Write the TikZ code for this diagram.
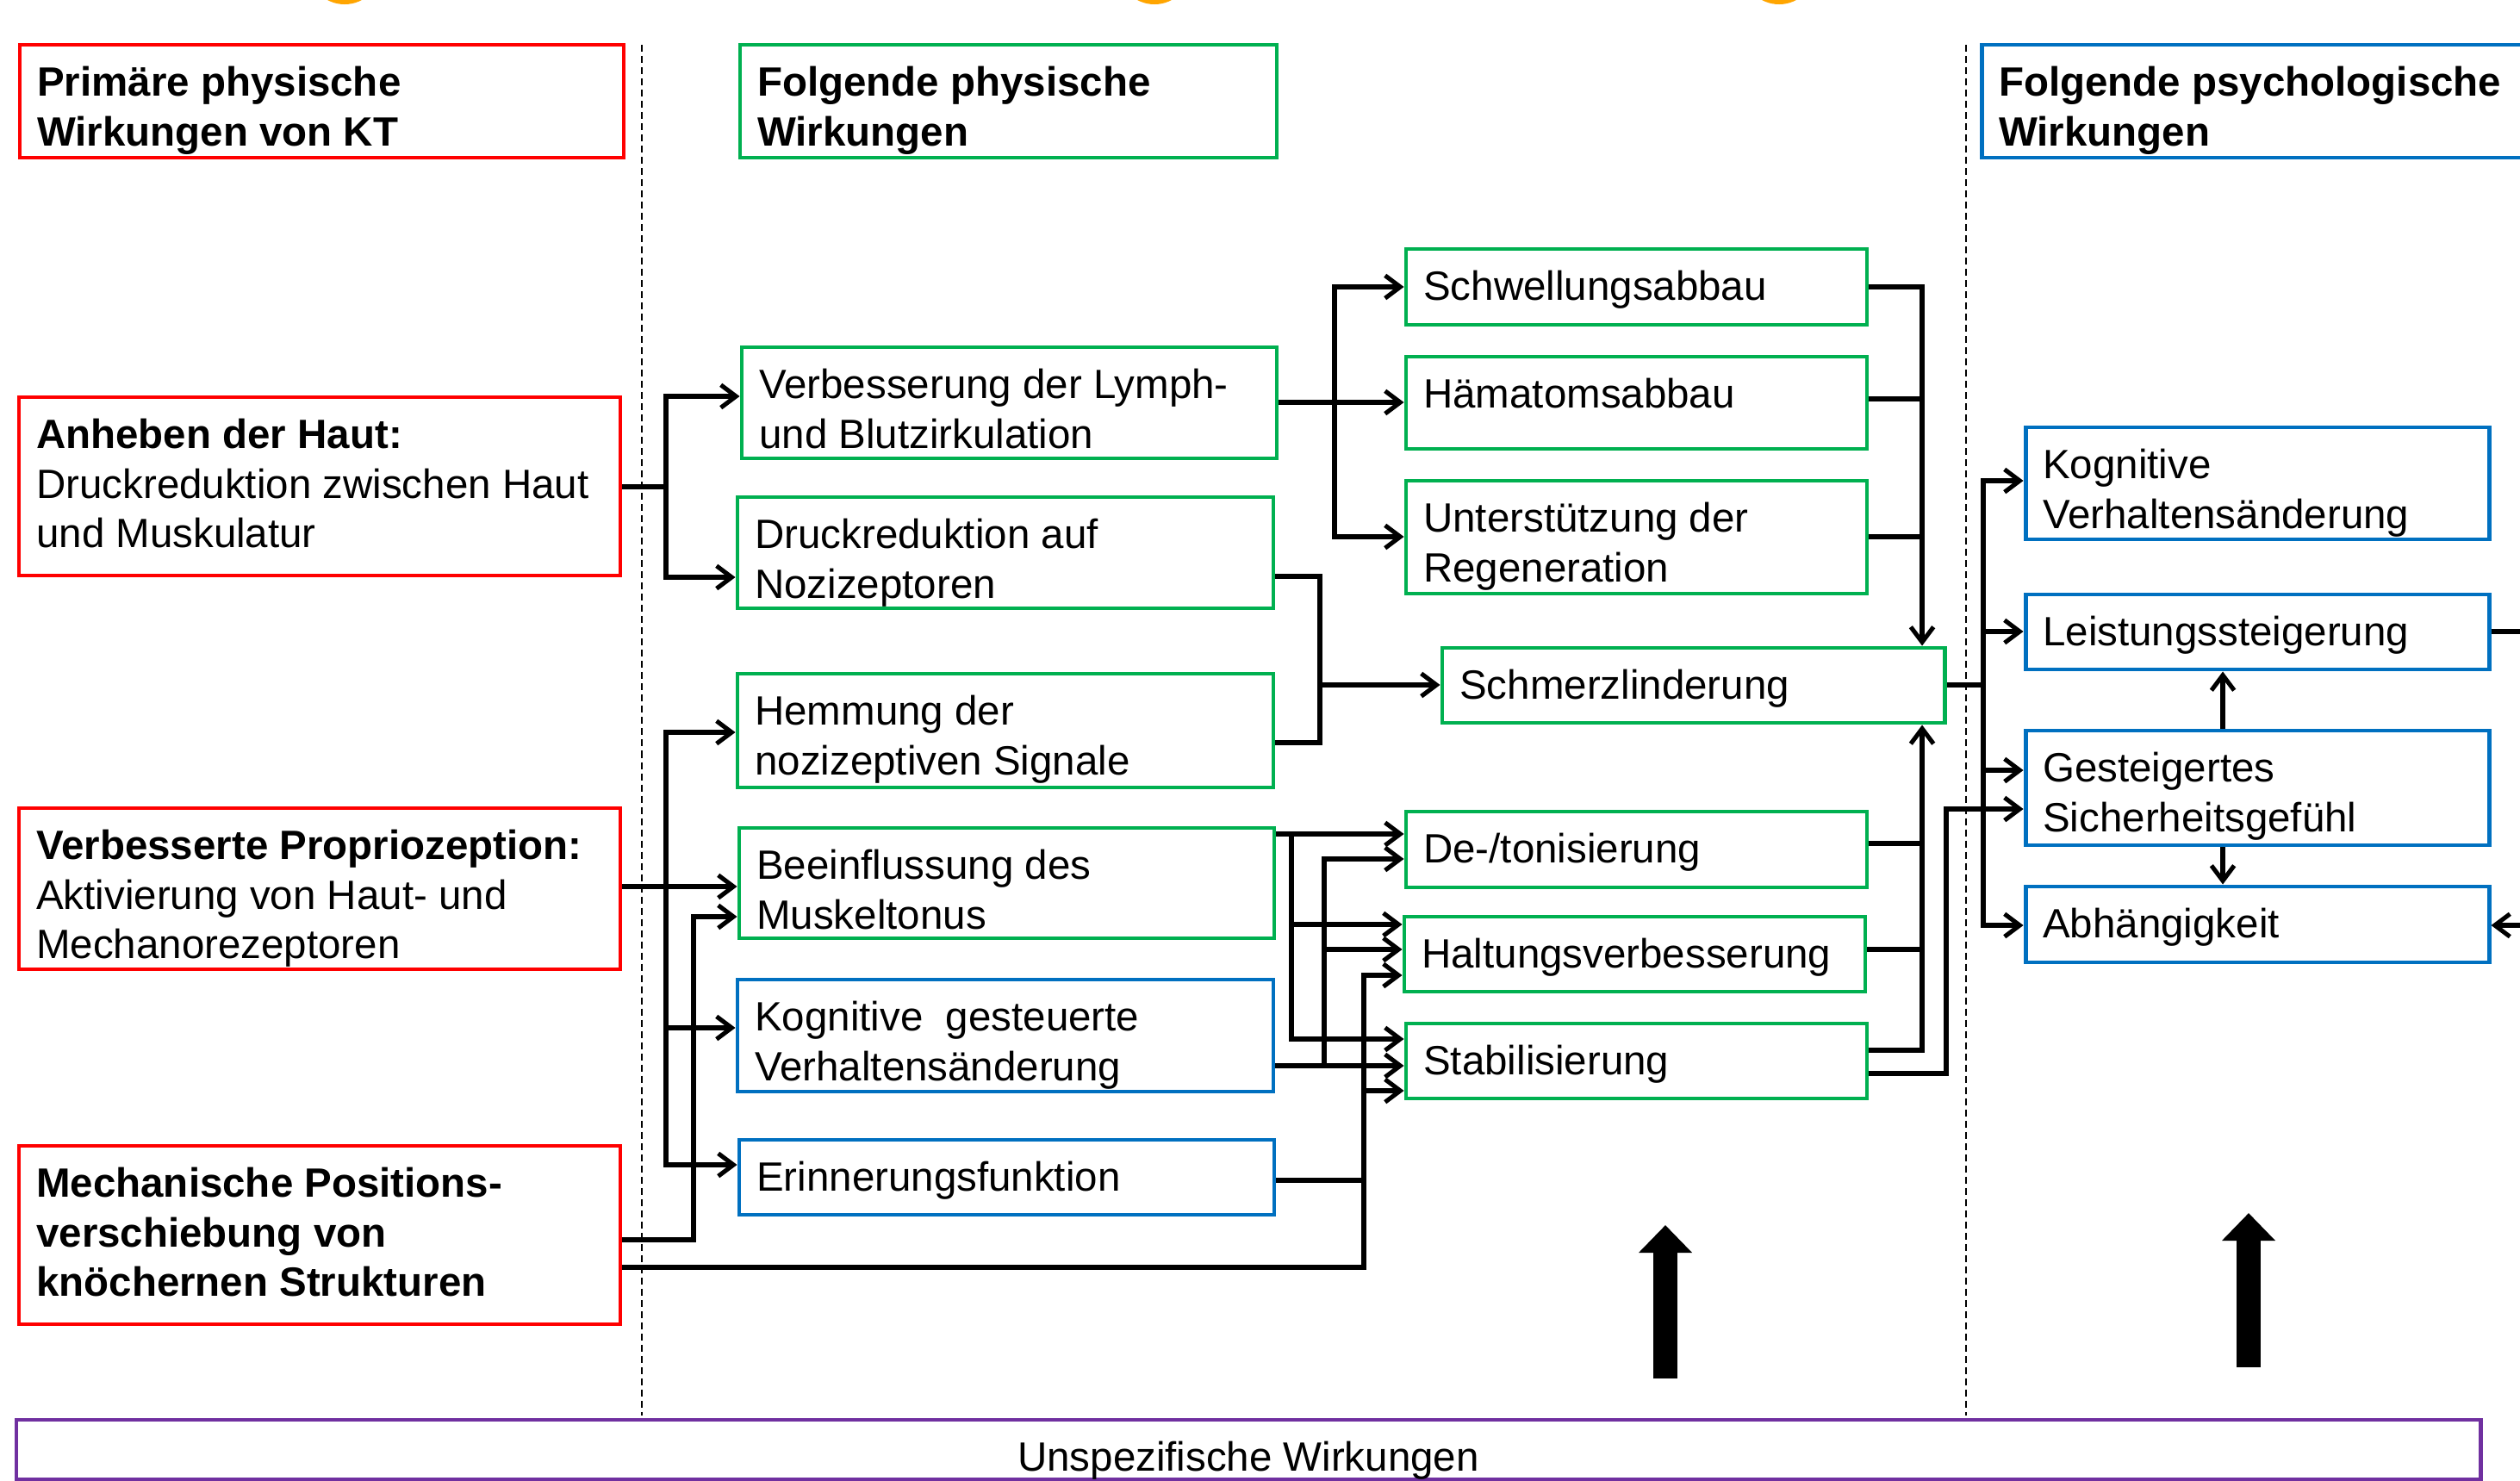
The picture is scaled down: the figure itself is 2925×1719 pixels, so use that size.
\documentclass[tikz,border=0pt]{standalone}
\usepackage{fontspec}
\setmainfont{Liberation Sans}
\usetikzlibrary{arrows.meta,fit,calc}
\definecolor{cred}{RGB}{255,0,0}
\definecolor{cgreen}{RGB}{0,176,80}
\definecolor{cblue}{RGB}{0,112,192}
\definecolor{cpurple}{RGB}{112,48,160}
\definecolor{corange}{RGB}{255,165,0}
\newcommand\mybox[7]{%
  \node[box=#6, fit={(#2,#3) (#4,#5)}] (#1) {};
  \node[txt] at ([xshift=0.22cm,yshift=-0.21cm]#1.north west) {\strut #7};}
\begin{document}
\begin{tikzpicture}[x=0.01cm,y=-0.01cm,
  box/.style={draw=#1, line width=1.4pt, inner sep=0pt, rectangle},
  txt/.style={anchor=north west, align=left, inner sep=0pt, font=\fontsize{13.5}{16.4}\selectfont},
  ln/.style={line width=1.45pt, line join=miter},
  ar/.style={ln, -{Straight Barb[length=5pt,width=7.5pt]}},
  bigar/.style={line width=0.28cm, -{Triangle[length=0.32cm,width=0.6cm]}},
  sep/.style={line width=0.5pt, dash pattern=on 0.08cm off 0.05cm}
]
\useasboundingbox (0,0) rectangle (2925,1719);
\clip (0,0) rectangle (2925,1719);
\fill[white] (0,0) rectangle (2925,1719);

% orange bits at the top edge
\fill[corange] (400,-37) circle (0.42cm);
\fill[corange] (1340,-37) circle (0.42cm);
\fill[corange] (2065,-37) circle (0.42cm);

% separators
\draw[sep] (745,52) -- (745,1643);
\draw[sep] (2282,52) -- (2282,1643);

% headers
\mybox{H1}{23}{52}{724}{183}{cred}{\textbf{Primäre physische}\\\textbf{Wirkungen von KT}}
\mybox{H2}{859}{52}{1482}{183}{cgreen}{\textbf{Folgende physische}\\\textbf{Wirkungen}}
\mybox{H3}{2300}{52}{2990}{183}{cblue}{\textbf{Folgende psychologische}\\\textbf{Wirkungen}}

% left column
\mybox{A}{22}{461}{720}{668}{cred}{\textbf{Anheben der Haut:}\\Druckreduktion zwischen Haut\\und Muskulatur}
\mybox{P}{22}{938}{720}{1125}{cred}{\textbf{Verbesserte Propriozeption:}\\Aktivierung von Haut- und\\Mechanorezeptoren}
\mybox{M}{22}{1330}{720}{1537}{cred}{\textbf{Mechanische Positions-}\\\textbf{verschiebung von}\\\textbf{knöchernen Strukturen}}

% middle column
\mybox{V}{861}{403}{1482}{532}{cgreen}{Verbesserung der Lymph-\\und Blutzirkulation}
\mybox{D}{856}{577}{1478}{706}{cgreen}{Druckreduktion auf\\Nozizeptoren}
\mybox{Hm}{856}{782}{1478}{914}{cgreen}{Hemmung der\\nozizeptiven Signale}
\mybox{B}{858}{961}{1479}{1089}{cgreen}{Beeinflussung des\\Muskeltonus}
\mybox{KG}{856}{1137}{1478}{1267}{cblue}{Kognitive~ gesteuerte\\Verhaltensänderung}
\mybox{E}{858}{1323}{1479}{1410}{cblue}{Erinnerungsfunktion}

% third column
\mybox{S}{1632}{289}{2167}{377}{cgreen}{Schwellungsabbau}
\mybox{Ha}{1632}{414}{2167}{521}{cgreen}{Hämatomsabbau}
\mybox{U}{1632}{558}{2167}{689}{cgreen}{Unterstützung der\\Regeneration}
\mybox{Sch}{1674}{752}{2257}{839}{cgreen}{Schmerzlinderung}
\mybox{Dt}{1632}{942}{2167}{1030}{cgreen}{De-/tonisierung}
\mybox{Hv}{1630}{1064}{2165}{1151}{cgreen}{Haltungsverbesserung}
\mybox{St}{1632}{1188}{2167}{1275}{cgreen}{Stabilisierung}

% right column
\mybox{K}{2351}{496}{2889}{626}{cblue}{Kognitive\\Verhaltensänderung}
\mybox{L}{2351}{690}{2889}{777}{cblue}{Leistungssteigerung}
\mybox{G}{2351}{848}{2889}{981}{cblue}{Gesteigertes\\Sicherheitsgefühl}
\mybox{Ab}{2351}{1029}{2889}{1117}{cblue}{Abhängigkeit}

% bottom box
\node[box=cpurple, fit={(19,1648) (2879,1717)}] (Un) {};
\node[txt, anchor=north] at ([yshift=-0.21cm]Un.north) {\strut Unspezifische Wirkungen};

% big arrows
\coordinate (ba1) at (1933,1600); \coordinate (bt1) at (1933,1422);
\coordinate (ba2) at (2610,1587); \coordinate (bt2) at (2610,1408);
\draw[bigar] (ba1) -- (bt1);
\draw[bigar] (ba2) -- (bt2);

% --- connectors ---
% Anheben
\draw[ar] (A.east |- 0,565) -- (773,565) |- (V.west |- 0,460);
\draw[ar] (773,565) |- (D.west |- 0,670);
% Verbesserung
\draw[ar] (V.east |- 0,467) -- (Ha.west |- 0,467);
\draw[ar] (1549,467) |- (S.west |- 0,333);
\draw[ar] (1549,467) |- (U.west |- 0,623);
% into Schmerzlinderung from above
\draw[ar] (S.east |- 0,333) -| (Sch.north -| 2231,0);
\draw[ln] (Ha.east |- 0,463) -- (2231,463);
\draw[ln] (U.east |- 0,623) -- (2231,623);
% Druckreduktion / Hemmung
\draw[ln] (D.east |- 0,669) -| (1532,862) -- (Hm.east |- 0,862);
\draw[ar] (1532,795) -- (Sch.west |- 0,795);
% into Schmerzlinderung from below
\draw[ar] (St.east |- 0,1219) -| (Sch.south -| 2231,0);
\draw[ln] (Dt.east |- 0,979) -- (2231,979);
\draw[ln] (Hv.east |- 0,1102) -- (2231,1102);
% Stabilisierung -> Sicherheitsgefuehl
\draw[ar] (St.east |- 0,1246) -| (2259,939) -- (G.west |- 0,939);
% Schmerzlinderung -> right column
\draw[ln] (Sch.east |- 0,795) -- (2302,795);
\draw[ar] (2302,795) |- (K.west |- 0,558);
\draw[ar] (2302,795) |- (Ab.west |- 0,1074);
\draw[ar] (2302,733) -- (L.west |- 0,733);
\draw[ar] (2302,894) -- (G.west |- 0,894);
% Gesteigertes <-> others
\draw[ar] (G.north -| 2580,0) -- (L.south -| 2580,0);
\draw[ar] (G.south -| 2580,0) -- (Ab.north -| 2580,0);
% off-picture links
\coordinate (offL) at (2990,733);
\coordinate (offA) at (2990,1074);
\draw[ln] (L.east |- 0,733) -- (offL);
\draw[ar] (offA) -- (Ab.east |- 0,1074);
% Propriozeption
\draw[ar] (P.east |- 0,1029) -- (B.west |- 0,1029);
\draw[ar] (773,1029) |- (Hm.west |- 0,850);
\draw[ar] (773,1029) |- (E.west |- 0,1352);
\draw[ar] (773,1193) -- (KG.west |- 0,1193);
% Mechanische
\draw[ar] (M.east |- 0,1439) -| (805,1064) -- (B.west |- 0,1064);
\draw[ar] (M.east |- 0,1471) -| (1583,1132) -- (Hv.west |- 0,1132);
\draw[ar] (1583,1266) -- (St.west |- 0,1266);
\draw[ln] (E.east |- 0,1370) -- (1583,1370);
% Beeinflussung
\draw[ar] (B.east |- 0,968) -- (Dt.west |- 0,968);
\draw[ar] (1499,968) |- (St.west |- 0,1206);
\draw[ar] (1499,1073) -- (Hv.west |- 0,1073);
% Kognitive gesteuerte
\draw[ar] (KG.east |- 0,1237) -- (St.west |- 0,1237);
\draw[ar] (1537,1237) |- (Dt.west |- 0,997);
\draw[ar] (1537,1102) -- (Hv.west |- 0,1102);
\end{tikzpicture}
\end{document}
